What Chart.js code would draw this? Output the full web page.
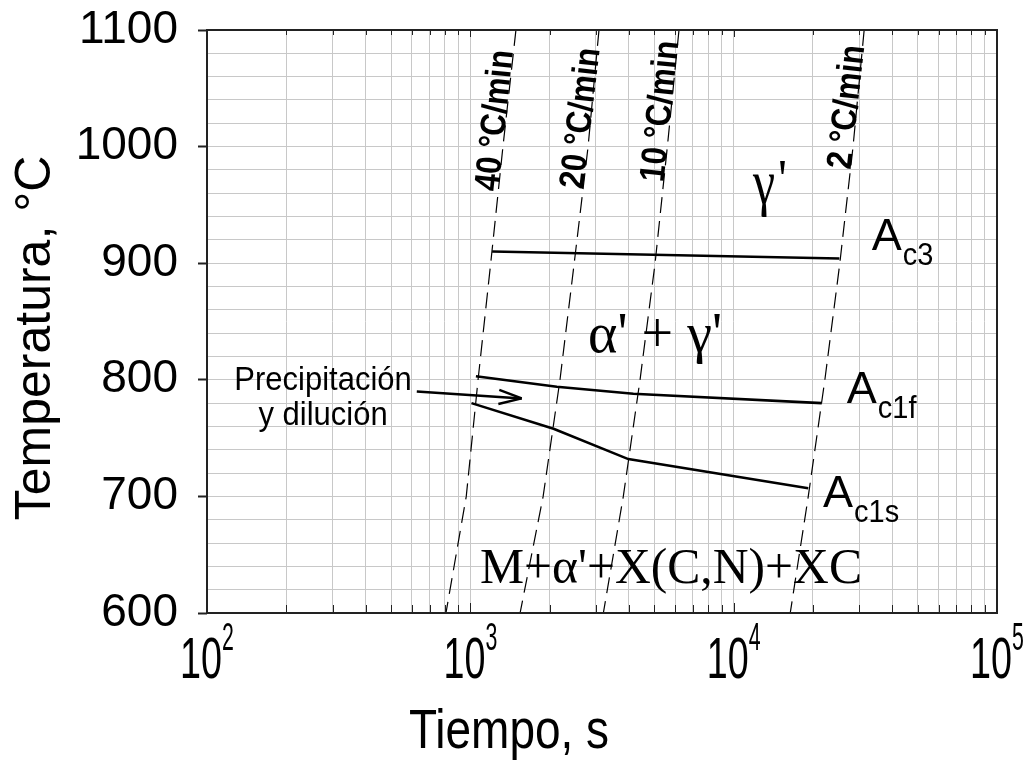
<!DOCTYPE html>
<html>
<head>
<meta charset="utf-8">
<script src="https://cdn.jsdelivr.net/npm/chart.js@4.4.1/dist/chart.umd.min.js"></script>
<style>
  html, body { margin: 0; background: #fff; }
</style>
</head>
<body>
<canvas id="cht" width="1034" height="762"></canvas>
<script>
// heating curves: time (s) at which each temperature is reached
const rateTemps = [1100, 1000, 900, 800, 700, 600];
const t40 = [1490, 1330, 1195, 1070, 965, 808];
const t20 = [3080, 2800, 2480, 2190, 1890, 1545];
const t10 = [6200, 5600, 5030, 4410, 3810, 3200];
const t2 = [31300, 28400, 25300, 22200, 19200, 16400];
const rateLabels = ['40 °C/min', '20 °C/min', '10 °C/min', '2 °C/min'];
const rateLabelTemps = [961, 963, 969, 980];

// transformation temperatures
const ac3Time = [1210, 25200];
const ac3Temp = [910, 904];
const ac1fTime = [1050, 2130, 4160, 21600];
const ac1fTemp = [803, 794, 788, 780];
const ac1sTime = [1010, 2070, 3980, 19200];
const ac1sTemp = [780, 758, 732, 707];

// arrow pointing at the precipitation zone
const arrowTime = [626, 1567];
const arrowTemp = [790, 784];

// axes
const xDecades = [100, 1000, 10000];
const xSignificands = [1, 2, 3, 4, 5, 6, 7, 8, 9];
const xLabelExps = [2, 3, 4, 5];
const yMin = 600, yMax = 1100, yGridStep = 20, yLabelStep = 100;

const SANS = '"Liberation Sans", Arial, sans-serif';
const SERIF = '"Liberation Serif", "Times New Roman", serif';

const toPoints = (xs, ys) => xs.map((v, i) => ({ x: v, y: ys[i] }));

const xGrid = [];
xDecades.forEach(d => xSignificands.forEach(s => xGrid.push(d * s)));
xGrid.push(100000);

const rateSets = [t40, t20, t10, t2];

function dashed(times) {
  return {
    data: toPoints(times, rateTemps),
    borderColor: '#000', borderWidth: 1.2, borderDash: [16, 8],
    pointRadius: 0, showLine: true
  };
}
function solid(times, temps, w) {
  return {
    data: toPoints(times, temps),
    borderColor: '#000', borderWidth: w, pointRadius: 0, showLine: true
  };
}

function drawText(ctx, str, px, py, o) {
  ctx.save();
  ctx.translate(px, py);
  if (o.rot) ctx.rotate(o.rot);
  ctx.font = o.font;
  ctx.fillStyle = '#000';
  ctx.textAlign = o.align || 'left';
  ctx.textBaseline = o.base || 'alphabetic';
  let sx = o.sx || 1;
  if (o.w) sx = o.w / ctx.measureText(str).width;
  ctx.scale(sx, o.sy || 1);
  ctx.fillText(str, 0, 0);
  ctx.restore();
}

function textWidth(ctx, str, font) {
  ctx.save();
  ctx.font = font;
  const w = ctx.measureText(str).width;
  ctx.restore();
  return w;
}

// pixel point on a heating curve at a given temperature, plus its direction
function onCurve(scales, times, temp) {
  const { x, y } = scales;
  for (let i = 0; i < rateTemps.length - 1; i++) {
    const tA = rateTemps[i], tB = rateTemps[i + 1];
    if (temp <= tA && temp >= tB) {
      const pA = [x.getPixelForValue(times[i]), y.getPixelForValue(tA)];
      const pB = [x.getPixelForValue(times[i + 1]), y.getPixelForValue(tB)];
      const f = (tA - temp) / (tA - tB);
      return {
        px: pA[0] + (pB[0] - pA[0]) * f,
        py: pA[1] + (pB[1] - pA[1]) * f,
        ang: Math.atan2(pA[1] - pB[1], pA[0] - pB[0])
      };
    }
  }
}

const annotate = {
  id: 'annotate',
  afterDraw(chart) {
    const { ctx, chartArea: a, scales } = chart;
    const { x, y } = scales;

    // inward ticks on top and bottom edges
    ctx.save();
    ctx.strokeStyle = '#222';
    ctx.lineWidth = 1;
    xGrid.forEach(v => {
      const px = Math.round(x.getPixelForValue(v)) + 0.5;
      const major = xLabelExps.some(e => Math.pow(10, e) === v);
      ctx.beginPath();
      ctx.moveTo(px, a.bottom); ctx.lineTo(px, a.bottom - (major ? 10 : 8));
      ctx.moveTo(px, a.top); ctx.lineTo(px, a.top + (major ? 7 : 5));
      ctx.stroke();
    });
    // plot frame
    ctx.lineWidth = 2;
    ctx.strokeRect(a.left, a.top, a.width, a.height);
    ctx.restore();

    // x tick labels: 10 with a raised exponent
    const baseFont = '41px ' + SANS, supFont = '26px ' + SANS;
    xLabelExps.forEach(e => {
      const px = x.getPixelForValue(Math.pow(10, e));
      const w1 = textWidth(ctx, '10', baseFont) * 0.92;
      const w2 = textWidth(ctx, String(e), supFont) * 0.82;
      const left = px - (w1 + w2) / 2;
      drawText(ctx, '10', left, a.bottom + 65, { font: baseFont, sx: 0.92, sy: 1.42 });
      drawText(ctx, String(e), left + w1, a.bottom + 37, { font: supFont, sx: 0.82, sy: 1.5 });
    });

    // axis titles
    drawText(ctx, 'Tiempo, s', 509, a.bottom + 135, { font: '46px ' + SANS, align: 'center', sy: 1.22 });
    drawText(ctx, 'Temperatura, °C', 50, 338, { font: '50px ' + SANS, align: 'center', rot: -Math.PI / 2 });

    // heating-rate labels along each dashed curve
    rateSets.forEach((times, i) => {
      const p = onCurve(scales, times, rateLabelTemps[i]);
      drawText(ctx, rateLabels[i], p.px, p.py, {
        font: 'bold 31px ' + SANS, rot: p.ang, sy: 1.15
      });
    });

    // arrow head
    const ax0 = x.getPixelForValue(arrowTime[0]), ay0 = y.getPixelForValue(arrowTemp[0]);
    const ax1 = x.getPixelForValue(arrowTime[1]), ay1 = y.getPixelForValue(arrowTemp[1]);
    const ang = Math.atan2(ay1 - ay0, ax1 - ax0);
    ctx.save();
    ctx.strokeStyle = '#000';
    ctx.lineWidth = 2.4;
    ctx.beginPath();
    [-0.3, 0.3].forEach(d => {
      ctx.moveTo(ax1, ay1);
      ctx.lineTo(ax1 - 24 * Math.cos(ang + d), ay1 - 24 * Math.sin(ang + d));
    });
    ctx.stroke();
    ctx.restore();

    // phase and annotation text
    const at = (t, T) => [x.getPixelForValue(t), y.getPixelForValue(T)];
    let p = at(276, 791);
    drawText(ctx, 'Precipitación', p[0], p[1], { font: '31px ' + SANS, align: 'center', sy: 1.05 });
    p = at(276, 761);
    drawText(ctx, 'y dilución', p[0], p[1], { font: '31px ' + SANS, align: 'center', sy: 1.05 });

    p = at(11840, 952);
    drawText(ctx, 'γ', p[0], p[1], { font: '50px ' + SERIF, sy: 1.25 });
    drawText(ctx, "'", p[0] + 25, p[1] - 6, { font: '50px ' + SERIF, sy: 1.1 });
    p = at(2800, 824);
    drawText(ctx, "α' + γ'", p[0], p[1], { font: '50px ' + SERIF, w: 134, sy: 1.15 });
    p = at(1088, 626);
    drawText(ctx, "M+α'+X(C,N)+XC", p[0], p[1], { font: '50px ' + SERIF, w: 382 });

    const phaseLine = (t, T, s) => {
      const q = at(t, T);
      const wa = textWidth(ctx, 'A', '45px ' + SANS);
      drawText(ctx, 'A', q[0], q[1], { font: '45px ' + SANS });
      drawText(ctx, s, q[0] + wa + 1, q[1] + 15, { font: '29px ' + SANS, sy: 1.1 });
    };
    phaseLine(33430, 911, 'c3');
    phaseLine(26880, 780, 'c1f');
    phaseLine(21840, 691, 'c1s');
  }
};

new Chart(document.getElementById('cht'), {
  type: 'scatter',
  data: {
    datasets: [
      ...rateSets.map(dashed),
      solid(ac3Time, ac3Temp, 2.6),
      solid(ac1fTime, ac1fTemp, 2.6),
      solid(ac1sTime, ac1sTemp, 2.6),
      solid(arrowTime, arrowTemp, 2.4)
    ]
  },
  options: {
    responsive: false,
    animation: false,
    devicePixelRatio: 1,
    layout: { padding: { left: 0, right: 37, top: 30, bottom: 0 } },
    plugins: { legend: { display: false }, tooltip: { enabled: false } },
    scales: {
      x: {
        type: 'logarithmic',
        min: 100, max: 100000,
        afterBuildTicks: s => { s.ticks = xGrid.map(v => ({ value: v })); },
        afterFit: s => { s.height = 149; s.paddingLeft = 0; s.paddingRight = 0; },
        border: { display: false },
        grid: { color: '#c8c8c8', lineWidth: 1, drawTicks: false },
        ticks: { autoSkip: false, callback: () => '' }
      },
      y: {
        min: yMin, max: yMax,
        afterFit: s => { s.width = 207; s.paddingTop = 0; s.paddingBottom = 0; },
        border: { display: false },
        grid: {
          color: '#c8c8c8', lineWidth: 1, tickLength: 9,
          tickColor: c => (c.tick && c.tick.value % yLabelStep === 0 ? '#222' : 'rgba(0,0,0,0)'),
          tickWidth: 2
        },
        ticks: {
          stepSize: yGridStep, autoSkip: false, padding: 20, color: '#000',
          font: { family: SANS, size: 46 },
          callback: v => (v % yLabelStep === 0 ? String(v) : '')
        }
      }
    }
  },
  plugins: [annotate]
});
</script>
</body>
</html>
